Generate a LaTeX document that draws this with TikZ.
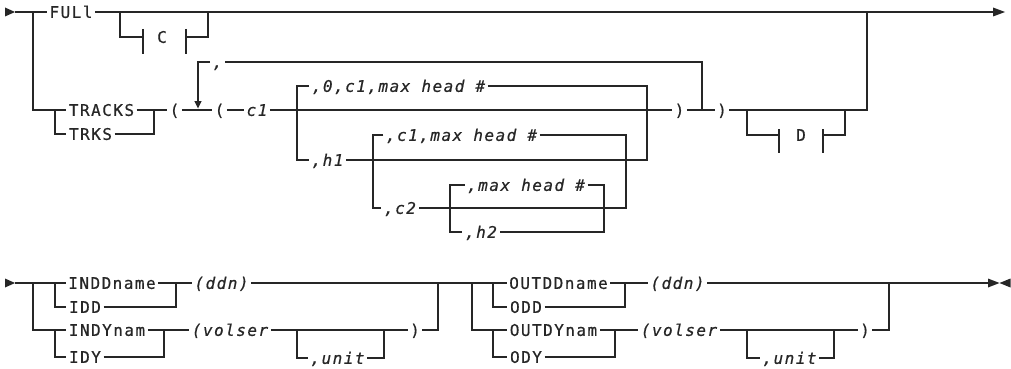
\documentclass[tikz,border=0pt]{standalone}
\usepackage{fontspec}
\newfontfamily\tx[LetterSpace=9.2,FakeBold=0.6]{DejaVu Sans Mono}
\newcommand\tf{\tx\fontsize{16}{18}\selectfont}
\newcommand\ti{\tx\itshape\fontsize{16}{18}\selectfont}
\definecolor{ink}{HTML}{262626}
\begin{document}
\begin{tikzpicture}[x=1pt,y=-1pt,line width=1.25pt,draw=ink,
  t/.style={inner xsep=2pt,inner ysep=0pt,text height=12.8pt,text depth=1.1pt,font=\tf,text=ink},
  v/.style={t,font=\ti},
  tick/.style={line width=1.25pt},
  thick seg/.style={line width=2.6pt}]
\useasboundingbox (0,0) rectangle (1011,369);

% ---------------- first diagram ----------------
\node[t] (full)   at (71,12)    {FULl};
\node[t] (cbox)   at (162,37)   {C};
\node[t] (tracks) at (101.5,110) {TRACKS};
\node[t] (trks)   at (90.5,134) {TRKS};
\node[t] (lp1)    at (174.5,110) {(};
\node[v] (comma)  at (217.5,62) {,};
\node[t] (lp2)    at (219.5,110) {(};
\node[v] (c1)     at (257,110)  {c1};
\node[v] (opt0)   at (398.5,86) {,0,c1,max head \#};
\node[v] (h1)     at (327.5,160) {,h1};
\node[v] (optc1)  at (461.5,135) {,c1,max head \#};
\node[v] (c2)     at (400,208)  {,c2};
\node[v] (maxh)   at (526,185)  {,max head \#};
\node[v] (h2)     at (481,232)  {,h2};
\node[t] (rp1)    at (679.5,110) {)};
\node[t] (rp2)    at (722,110)  {)};
\node[t] (dbox)   at (801,135)  {D};

\coordinate (s1) at (15,12);
\coordinate (e1) at (993,12);
\fill[ink] (5,7.5) -- (s1) -- (5,16.5) -- cycle;
\draw (s1) -- (full.west);
\draw (full.east) -- (e1);
\fill[ink] (993,7.5) -- (1005,12) -- (993,16.5) -- cycle;

% C fragment
\draw (120,12) |- (143,37);
\draw[tick] (143,29) -- (143,54);
\draw[tick] (186,29) -- (186,54);
\draw (186,37) -| (208,12);

% TRACKS / TRKS
\draw (33,12) |- (tracks.west);
\draw (55,110) |- (trks.west);
\draw (trks.east) -| (154,110);
\draw (tracks.east) -- (lp1.west);
\draw (lp1.east) -- (lp2.west);
\draw (lp2.east) -- (c1.west);
\draw (c1.east) -- (rp1.west);
\draw (rp1.east) -- (rp2.west);
\draw (rp2.east) -| (867,12);

% repeat loop
\draw (702,110) |- (comma.east);
\draw (comma.west) -- (198,62) -- (198,101);
\fill[ink] (194.3,101) -- (201.7,101) -- (198,108.5) -- cycle;

% c1 options
\draw (opt0.west) -| (297,110) |- (h1.west);
\draw (opt0.east) -| (647,110) |- (h1.east);
\draw (optc1.west) -| (373,160) |- (c2.west);
\draw (optc1.east) -| (626,160) |- (c2.east);
\draw (maxh.west) -| (450,208) |- (h2.west);
\draw (maxh.east) -| (604,208) |- (h2.east);

% D fragment
\draw (747,110) |- (779,135);
\draw[tick] (779,129) -- (779,153);
\draw[tick] (823,129) -- (823,153);
\draw (823,135) -| (845,110);

% ---------------- second diagram ----------------
\node[t] (inddname)  at (112,283)  {INDDname};
\node[t] (idd)       at (85,307)   {IDD};
\node[v] (ddn1)      at (221.5,283) {(ddn)};
\node[t] (indynam)   at (107,330)  {INDYnam};
\node[t] (idy)       at (85,357)   {IDY};
\node[v] (volser1)   at (230,330)  {(volser};
\node[v] (unit1)     at (337.5,358) {,unit};
\node[t] (rp3)       at (415,330)  {)};
\node[t] (outddname) at (558.5,283) {OUTDDname};
\node[t] (odd)       at (526,307)  {ODD};
\node[v] (ddn2)      at (677.5,283) {(ddn)};
\node[t] (outdynam)  at (553.5,330) {OUTDYnam};
\node[t] (ody)       at (526,357)  {ODY};
\node[v] (volser2)   at (679,330)  {(volser};
\node[v] (unit2)     at (789.5,358) {,unit};
\node[t] (rp4)       at (865,330)  {)};

\coordinate (s2) at (15,283);
\coordinate (e2) at (988,283);
\fill[ink] (5,278.5) -- (s2) -- (5,287.5) -- cycle;
\draw (s2) -- (inddname.west);
\draw (33,283) |- (indynam.west);
\draw (55,283) |- (idd.west);
\draw (55,330) |- (idy.west);
\draw (inddname.east) -- (ddn1.west);
\draw (idd.east) -| (176,283);
\draw (ddn1.east) -- (outddname.west);
\draw (indynam.east) -- (volser1.west);
\draw (idy.east) -| (164,330);
\draw (volser1.east) -- (rp3.west);
\draw (297,330) |- (unit1.west);
\draw (unit1.east) -| (384,330);
\draw (rp3.east) -| (438,283);

\draw (472,283) |- (outdynam.west);
\draw (493,283) |- (odd.west);
\draw (493,330) |- (ody.west);
\draw (outddname.east) -- (ddn2.west);
\draw (odd.east) -| (625,283);
\draw (ddn2.east) -- (e2);
\draw (outdynam.east) -- (volser2.west);
\draw (ody.east) -| (615,330);
\draw (volser2.east) -- (rp4.west);
\draw (747,330) |- (unit2.west);
\draw (unit2.east) -| (834,330);
\draw (rp4.east) -| (889,283);
\draw[thick seg] (893,283) -- (916,283);
\fill[ink] (988,278.5) -- (999.5,283) -- (988,287.5) -- cycle;
\fill[ink] (1010.5,278.5) -- (999.5,283) -- (1010.5,287.5) -- cycle;
\end{tikzpicture}
\end{document}
